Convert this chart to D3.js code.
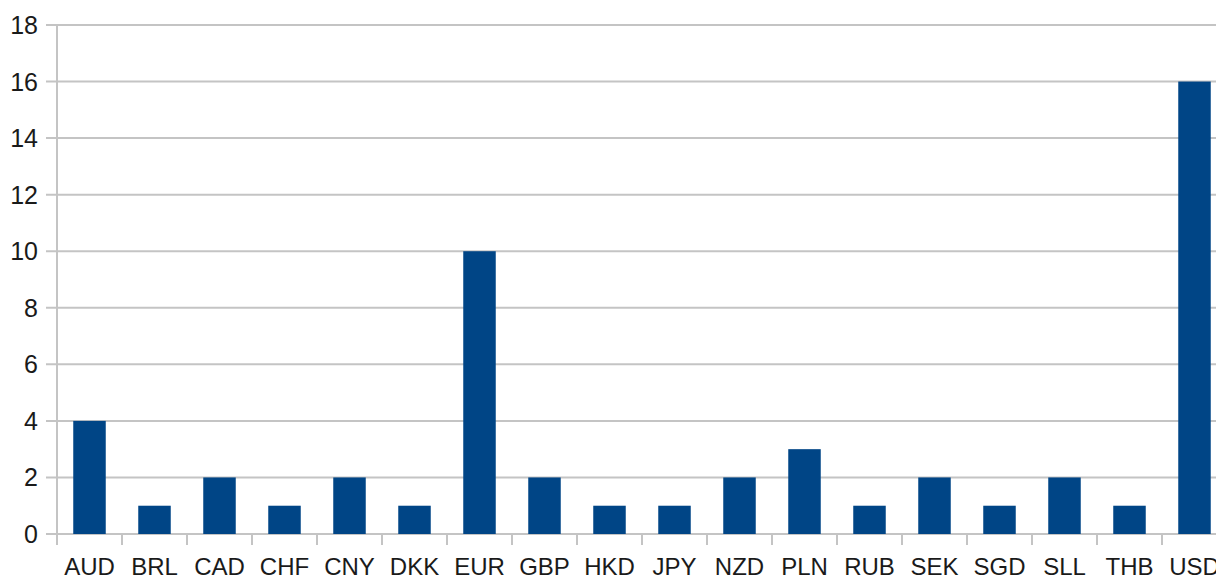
<!DOCTYPE html>
<html>
<head>
<meta charset="utf-8">
<script src="https://cdn.jsdelivr.net/npm/d3@7"></script>
<style>
  html, body { margin: 0; padding: 0; overflow: hidden; background: #fff; }
  text { font-family: "Liberation Sans", Arial, sans-serif; fill: #1a1a1a; }
</style>
</head>
<body>
<script>
"use strict";

// currencies and how many of each
var currencies = ["AUD", "BRL", "CAD", "CHF", "CNY", "DKK", "EUR", "GBP", "HKD",
                  "JPY", "NZD", "PLN", "RUB", "SEK", "SGD", "SLL", "THB", "USD"];
var counts = [4, 1, 2, 1, 2, 1, 10, 2, 1, 1, 2, 3, 1, 2, 1, 2, 1, 16];
var yTicks = [0, 2, 4, 6, 8, 10, 12, 14, 16, 18];

window.onload = function() {
  var width = 1216;
  var height = 578;
  var left = 57, top = 25, bottom = 534;
  var step = 65;

  var svg = d3.select("body")
      .append("svg")
      .attr("width", width)
      .attr("height", height);

  var x = d3.scaleBand()
      .domain(currencies)
      .range([left, left + currencies.length * step])
      .paddingInner(0.5)
      .paddingOuter(0.25);

  var y = d3.scaleLinear()
      .domain([0, 18])
      .range([bottom, top]);

  var gridColor = "#c4c4c4";

  // horizontal grid lines (stick out left as tick marks)
  svg.append("g")
    .selectAll("line")
    .data(yTicks)
    .join("line")
      .attr("x1", left - 11)
      .attr("x2", width)
      .attr("y1", d => y(d))
      .attr("y2", d => y(d))
      .style("stroke", gridColor)
      .style("stroke-width", 2);

  // y labels
  svg.append("g")
    .selectAll("text")
    .data(yTicks)
    .join("text")
      .attr("x", 38)
      .attr("y", d => y(d))
      .attr("dy", "0.36em")
      .attr("text-anchor", "end")
      .style("font-size", "25px")
      .text(d => d);

  // y axis line
  svg.append("line")
      .attr("x1", left).attr("x2", left)
      .attr("y1", top).attr("y2", bottom + 11)
      .style("stroke", gridColor)
      .style("stroke-width", 2);

  // x ticks on category boundaries
  var bounds = currencies.map(c => x(c) - x.step() * 0.25);
  bounds.push(left + currencies.length * step);
  svg.append("g")
    .selectAll("line")
    .data(bounds)
    .join("line")
      .attr("x1", d => d).attr("x2", d => d)
      .attr("y1", bottom).attr("y2", bottom + 11)
      .style("stroke", gridColor)
      .style("stroke-width", 2);

  // bars
  svg.append("g")
    .selectAll("rect")
    .data(currencies)
    .join("rect")
      .attr("x", d => x(d))
      .attr("width", x.bandwidth())
      .attr("y", (d, i) => y(counts[i]))
      .attr("height", (d, i) => y(0) - y(counts[i]))
      .style("fill", "#004586");

  // x labels
  svg.append("g")
    .selectAll("text")
    .data(currencies)
    .join("text")
      .attr("x", d => x(d) + x.bandwidth() / 2)
      .attr("y", 575)
      .attr("text-anchor", "middle")
      .style("font-size", "24px")
      .text(d => d);
};
</script>
</body>
</html>
